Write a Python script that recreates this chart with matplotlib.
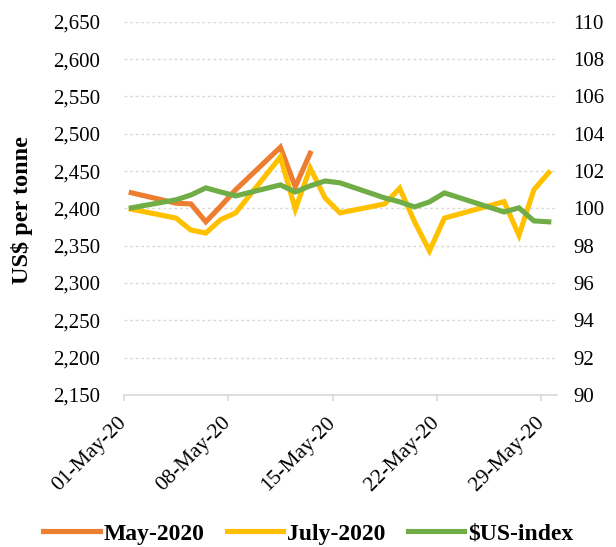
import datetime as dt
import matplotlib
matplotlib.use('Agg')
import matplotlib.pyplot as plt
import matplotlib.dates as mdates
from matplotlib.ticker import FuncFormatter, MultipleLocator

# trading days of May 2020
days = [1, 4, 5, 6, 7, 8, 11, 12, 13, 14, 15, 18, 19, 20, 21, 22, 26, 27, 28, 29]
may_2020 = [2421, 2407, 2406, 2382, 2403, 2425, 2482, 2429, 2474]
july_2020 = [2399, 2387, 2371, 2367, 2385, 2394, 2469, 2399, 2454, 2414,
             2394, 2406, 2427, 2382, 2343, 2387, 2409, 2364, 2425, 2448]
us_index = [100.03, 100.46, 100.72, 101.10, 100.88, 100.67, 101.26, 100.88, 101.21, 101.47,
            101.37, 100.56, 100.35, 100.08, 100.35, 100.83, 99.81, 100.03, 99.33, 99.28]
tick_days = [1, 8, 15, 22, 29]

plt.rcParams['font.family'] = ['Liberation Serif', 'DejaVu Serif']

# points sit in the middle of each day
dates = [dt.datetime(2020, 5, d, 12) for d in days]

fig = plt.figure(figsize=(6.16, 5.47), dpi=100)
ax = fig.add_axes([0.201, 0.278, 0.703, 0.682])
ax2 = ax.twinx()

orange = '#ED7D31'
yellow = '#FFC000'
green = '#70AD47'

l1, = ax.plot(dates[:len(may_2020)], may_2020, color=orange, lw=3.7,
              solid_joinstyle='miter', label='May-2020', zorder=3)
l2, = ax.plot(dates, july_2020, color=yellow, lw=3.7,
              solid_joinstyle='miter', label='July-2020', zorder=4)
l3, = ax2.plot(dates, us_index, color=green, lw=3.7,
               solid_joinstyle='miter', label='$US-index', zorder=5)

ax.set_ylim(2150, 2650)
ax.yaxis.set_major_locator(MultipleLocator(50))
ax.yaxis.set_major_formatter(FuncFormatter(lambda v, p: '{:,.0f}'.format(v)))
ax2.set_ylim(90, 110)
ax2.yaxis.set_major_locator(MultipleLocator(2))

ax.set_xlim(dt.datetime(2020, 5, 1), dt.datetime(2020, 5, 30, 1))
ax.set_xticks([dt.datetime(2020, 5, d) for d in tick_days])
ax.xaxis.set_major_formatter(mdates.DateFormatter('%d-%b-%y'))

ax.grid(axis='y', color='#D9D9D9', linestyle=(0, (2, 2)), linewidth=1)
ax.set_axisbelow(True)

for a in (ax, ax2):
	for s in ('top', 'left', 'right'):
		a.spines[s].set_visible(False)
	a.spines['bottom'].set_color('#D9D9D9')
	a.spines['bottom'].set_linewidth(1.2)
ax2.spines['bottom'].set_visible(False)

ax.tick_params(axis='y', length=0, labelsize=15, pad=17)
ax2.tick_params(axis='y', length=0, labelsize=15, pad=12)
ax.tick_params(axis='x', length=4, color='#D9D9D9', width=1.2, labelsize=15.5, pad=14)
for lab in ax.get_xticklabels():
	lab.set_rotation(45)
	lab.set_ha('right')
	lab.set_va('center')
	lab.set_rotation_mode('anchor')

ax.set_ylabel('US$ per tonne', fontsize=17.5, fontweight='bold')
ax.yaxis.set_label_coords(-0.21, 0.496)

fig.legend(handles=[l1, l2, l3], loc='center', bbox_to_anchor=(0.5, 0.024),
           ncol=3, frameon=False, handlelength=2.4, handletextpad=0.15,
           columnspacing=0.95, prop={'weight': 'bold', 'size': 17})

fig.savefig('out.png', dpi=100)
